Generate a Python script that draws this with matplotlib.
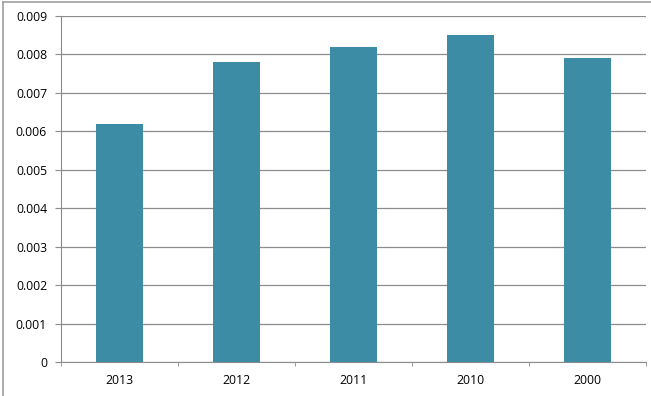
import matplotlib
matplotlib.use('Agg')
import matplotlib.pyplot as plt
from matplotlib.lines import Line2D
import numpy as np

years = ['2013', '2012', '2011', '2010', '2000']
values = [0.0062, 0.0078, 0.0082, 0.0085, 0.0079]
yticks = [0, 0.001, 0.002, 0.003, 0.004, 0.005, 0.006, 0.007, 0.008, 0.009]
ytick_labels = ['0', '0.001', '0.002', '0.003', '0.004', '0.005', '0.006', '0.007', '0.008', '0.009']

plt.rcParams['font.family'] = ['Open Sans', 'DejaVu Sans']

fig = plt.figure(figsize=(6.51, 3.96), dpi=100)
ax = fig.add_axes([61 / 651, 34 / 396, 585 / 651, 346 / 396])

x = np.arange(len(years))
ax.bar(x, values, width=0.4, color='#3B8CA4', zorder=3)

ax.set_xlim(-0.5, len(years) - 0.5)
ax.set_ylim(0, 0.009)
ax.set_yticks(yticks)
ax.set_yticklabels(ytick_labels, fontsize=8.8)
ax.set_xticks(x)
ax.set_xticklabels(years, fontsize=8.8)
ax.set_xticks(np.arange(len(years) + 1) - 0.5, minor=True)

ax.grid(axis='y', color='#8C8C8C', linewidth=0.9, zorder=0)
for s in ['top', 'right']:
    ax.spines[s].set_visible(False)
ax.spines['left'].set_color('#8C8C8C')
ax.spines['bottom'].set_color('#8C8C8C')
ax.tick_params(axis='y', length=4, color='#8C8C8C', pad=6)
ax.tick_params(axis='x', which='major', length=0, pad=9)
ax.tick_params(axis='x', which='minor', length=3, color='#8C8C8C')

# outer chart border (left and top visible)
fig.add_artist(Line2D([2.5 / 651, 2.5 / 651], [0, 1 - 1.5 / 396], color='#A0A0A0', linewidth=1.2))
fig.add_artist(Line2D([2.5 / 651, 1], [1 - 1.5 / 396, 1 - 1.5 / 396], color='#A0A0A0', linewidth=1.2))

fig.savefig('out.png', dpi=100)
